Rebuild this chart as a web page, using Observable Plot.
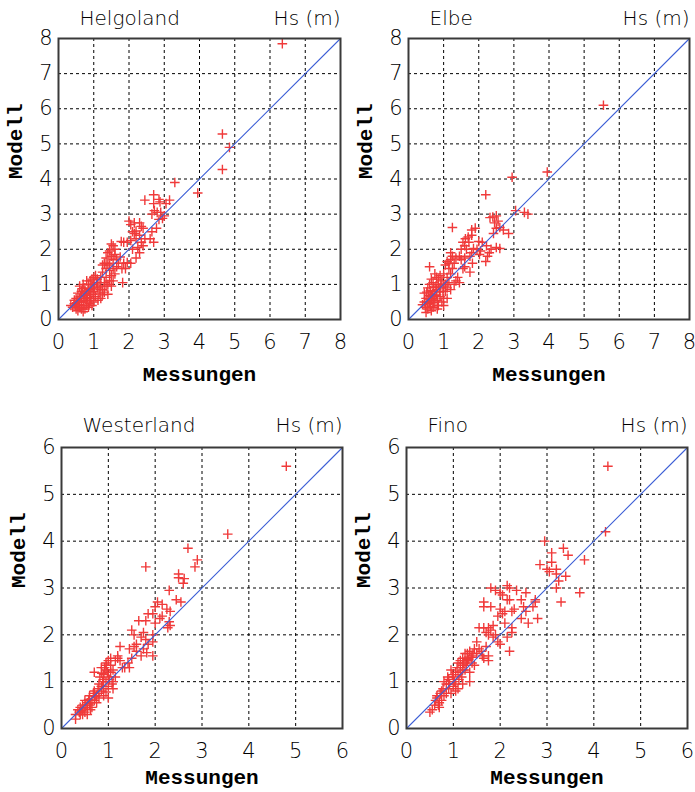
<!DOCTYPE html>
<html>
<head>
<meta charset="utf-8">
<script src="https://cdn.jsdelivr.net/npm/d3@7"></script>
<script src="https://cdn.jsdelivr.net/npm/@observablehq/plot@0.6"></script>
<style>
  html, body { margin: 0; padding: 0; background: white; }
  #wrap { position: relative; width: 695px; height: 792px; overflow: hidden; background: white; }
  .panel { position: absolute; }
</style>
</head>
<body>
<div id="wrap"></div>
<script>
// Data: [Messungen, Modell] pairs (Hs in m)
const helgoland = [
[6.35,7.85],[4.65,5.28],[4.85,4.9],[4.65,4.27],[3.95,3.6],[3.3,3.9],
[2.45,3.4],[2.7,3.55],[2.85,3.42],[2.88,3.35],[3.15,3.4],[3.05,3.3],[2.7,3.3],[2.65,3.0],[2.72,3.1],[2.8,3.05],[2.9,3.05],[2.95,2.88],[3.0,2.95],[2.85,2.85],[2.78,2.6],[2.65,2.5],[2.7,2.2],[2.6,2.3],
[2.0,2.8],[2.05,2.7],[2.15,2.75],[2.3,2.75],[2.35,2.65],[2.1,2.5],[2.2,2.52],[2.15,2.45],[2.4,2.6],[2.3,2.4],[2.45,2.3],[2.2,2.3],[2.35,2.2],[2.4,2.1],[2.25,2.05],[2.05,2.25],[1.95,2.2],[2.1,2.0],[1.85,2.2],[1.78,2.22],[2.3,1.9],[2.2,1.75],
[1.5,2.15],[1.55,2.1],[1.6,2.0],[1.45,1.95],[1.4,1.9],[1.6,1.85],[1.5,1.8],[1.35,1.75],[1.55,1.7],[1.65,1.72],[1.75,1.78],[1.4,1.6],[1.3,1.6],[1.45,1.55],[1.55,1.45],[1.7,1.6],[1.85,1.6],[1.95,1.62],[2.05,1.6],[1.8,1.45],[1.9,1.45],[1.82,1.05],[1.45,1.4],[1.35,1.2],[1.25,1.35],[1.2,1.2],[1.3,1.05],[1.4,1.0],[1.45,1.1],[1.5,1.25],[1.6,1.3],[1.35,0.95],[1.25,0.85],[1.3,0.78],[1.4,0.72],[1.55,1.1],[1.5,0.95],[1.65,1.5],[1.35,1.45],[1.25,1.55],
[0.35,0.4],[0.45,0.45],[0.5,0.3],[0.55,0.25],[0.6,0.35],[0.55,0.5],[0.5,0.6],[0.6,0.6],[0.65,0.5],[0.7,0.4],[0.7,0.7],[0.65,0.8],[0.75,0.6],[0.8,0.5],[0.8,0.75],[0.75,0.9],[0.85,0.85],[0.9,0.7],[0.9,0.55],[0.95,0.95],[0.85,1.0],[0.9,1.1],[0.8,1.1],[0.7,1.0],[1.0,1.0],[1.0,0.8],[1.05,0.65],[1.1,0.9],[1.1,1.15],[1.15,1.05],[1.2,0.95],[1.05,1.25],[1.15,0.75],[1.0,0.5],[0.95,0.4],[0.85,0.35],[1.2,0.6],[0.6,0.95],[0.55,0.75],[0.45,0.55],[0.4,0.35],[0.65,0.3],[0.75,0.3],[0.7,0.22],[0.62,0.65],[0.72,0.55],[0.78,0.68],[0.82,0.62],[0.88,0.78],[0.92,0.88],[0.98,0.72],[1.02,0.9],[1.08,1.05],[0.68,0.88],[0.58,0.42],[0.48,0.38],[0.52,0.48],[0.88,0.45],[0.92,0.6],[1.12,0.55],[1.25,0.7],[1.18,0.85],[0.8,0.4],[0.75,0.8],[0.95,1.15],[1.0,1.2]
];

const elbe = [
[5.55,6.1],[3.95,4.2],[2.95,4.05],[2.2,3.55],[3.05,3.1],[3.3,3.05],[3.4,3.0],
[1.25,2.62],[1.8,2.55],[1.9,2.6],[2.4,2.92],[2.5,2.95],[2.32,2.9],[2.45,2.75],[2.55,2.8],[2.6,2.62],[2.7,2.55],[2.5,2.6],[2.42,2.45],[2.85,2.45],[2.5,2.05],[2.6,2.02],[2.35,2.0],[2.3,1.9],[2.25,1.8],[2.2,1.65],[2.22,2.1],[2.1,2.2],[2.0,2.22],[1.95,2.0],[2.05,1.95],[2.02,1.85],[1.8,2.4],[1.7,2.35],[1.62,2.3],[1.55,2.2],[1.6,2.1],[1.5,2.0],[1.65,2.0],[1.72,2.2],[1.85,2.02],[1.8,1.9],[1.75,1.8],[1.82,1.6],[1.75,1.35],[1.6,1.5],[1.55,1.45],[1.6,1.75],[1.5,1.7],[1.45,1.8],[1.35,1.75],[1.25,1.8],[1.2,1.9],[1.3,1.6],[1.2,1.7],[1.1,1.65],[1.05,1.55],[1.15,1.45],[1.4,1.2],[1.45,1.05],[1.35,1.1],[1.3,1.0],[1.2,1.3],[1.1,1.2],[1.25,1.45],[1.15,1.6],
[0.6,1.5],[0.4,0.42],[0.45,0.75],[0.5,0.6],[0.55,0.3],[0.5,0.2],[0.6,0.45],[0.65,0.65],[0.7,0.8],[0.55,0.9],[0.6,1.0],[0.7,1.05],[0.75,1.3],[0.8,1.2],[0.85,1.0],[0.8,0.7],[0.75,0.5],[0.7,0.35],[0.65,0.25],[0.9,0.9],[0.95,1.1],[1.0,0.95],[1.0,1.3],[0.9,1.25],[1.0,0.6],[0.95,0.5],[0.85,0.4],[1.05,0.8],[1.1,0.6],[0.9,0.65],[0.8,0.85],[0.65,0.55],[0.55,0.5],[0.48,0.35],[0.52,0.78],[0.58,0.68],[0.62,0.82],[0.68,0.72],[0.72,0.6],[0.78,0.95],[0.82,0.55],[0.88,0.78],[0.92,1.0],[0.98,0.8],[1.05,1.0],[1.1,0.9],[1.15,1.05],[1.2,0.85],[0.62,0.38],[0.7,0.48],[0.75,0.68],[0.58,0.58],[0.85,1.15],[0.72,0.92],[0.45,0.5],[0.65,1.15],[1.0,0.4],[0.82,0.3]
];

const westerland = [
[4.8,5.6],[3.55,4.15],[2.7,3.85],[1.8,3.45],[2.9,3.6],[2.85,3.45],[2.5,3.3],[2.5,3.22],[2.62,3.2],[2.6,3.1],[2.3,2.95],[2.45,2.75],[2.55,2.7],[2.05,2.7],[2.0,2.6],[2.15,2.65],[2.25,2.55],[2.32,2.5],[2.15,2.4],[2.1,2.35],[2.3,2.28],[2.32,2.2],[2.27,2.15],[2.0,2.25],[1.95,2.45],[1.85,2.45],[1.8,2.3],[1.65,2.3],[1.5,2.1],[1.55,2.0],[1.7,1.95],[1.8,1.9],[1.75,2.05],[1.95,2.0],[1.85,1.8],[1.95,1.85],[1.82,1.62],[1.75,1.7],[1.6,1.8],[1.55,1.75],[1.45,1.7],[1.7,1.55],[1.95,1.55],[1.25,1.75],[1.5,1.5],[1.42,1.4],[1.35,1.3],[1.3,1.3],[1.2,1.5],[1.15,1.45],[1.25,1.45],[1.2,1.55],[1.6,1.65],[1.45,1.3],[1.1,1.25],
[0.7,1.2],[0.85,1.3],[0.9,1.15],[0.95,1.4],[1.0,1.45],[1.05,1.35],[1.05,1.2],[1.0,1.1],[0.95,1.0],[1.0,0.9],[1.1,0.85],[0.9,0.85],[0.85,0.9],[0.8,0.95],[0.8,0.75],[0.75,0.7],[0.7,0.8],[0.65,0.6],[0.6,0.7],[0.55,0.55],[0.5,0.6],[0.45,0.5],[0.4,0.45],[0.35,0.4],[0.3,0.3],[0.3,0.2],[0.4,0.3],[0.5,0.35],[0.55,0.45],[0.6,0.5],[0.65,0.45],[0.7,0.6],[0.75,0.55],[0.8,0.65],[0.85,0.8],[0.9,0.7],[1.1,1.0],[1.15,1.1],[0.95,1.25],[0.9,1.05],[0.92,1.3],[0.98,1.2],[1.02,1.05],[0.88,1.0],[0.82,1.1],[0.78,0.85],[0.72,0.68],[0.68,0.75],[0.62,0.55],[0.58,0.62],[0.52,0.5],[0.48,0.42],[0.42,0.38],[0.38,0.35],[0.45,0.3],[0.62,0.4],[0.55,0.3],[0.95,0.78],[1.08,0.95],[1.05,1.5],[0.96,1.35],[0.86,1.18],[1.0,0.65]
];

const fino = [
[4.3,5.6],[4.25,4.2],[2.95,4.0],[3.35,3.85],[3.1,3.75],[3.45,3.7],[3.8,3.6],[3.1,3.55],[2.85,3.5],[3.0,3.4],[3.05,3.35],[3.2,3.4],[3.2,3.3],[3.4,3.25],[3.25,3.15],[3.2,3.0],[3.7,2.9],[3.3,2.7],[2.8,2.35],[2.6,2.25],
[2.55,2.9],[2.75,2.7],[2.7,2.6],[2.75,2.75],[2.5,2.6],[2.55,2.5],[2.45,2.75],[2.45,2.35],[2.3,2.55],[2.35,2.95],[2.15,3.05],[2.2,3.0],[2.15,2.75],[2.2,2.75],[2.25,2.5],[2.1,2.5],[2.05,2.85],[2.0,2.9],[1.9,2.95],[1.8,3.0],[1.65,2.7],[1.65,2.6],[1.8,2.6],[1.95,2.4],[2.0,2.55],[2.05,2.45],[2.1,2.25],[2.25,2.15],[2.25,2.05],[2.15,1.95],[2.2,1.65],[2.0,1.8],[1.95,1.85],[1.9,2.0],[1.85,1.95],[1.75,2.0],[1.7,2.05],[1.8,2.1],[1.55,2.15],[1.65,2.15],[1.75,2.15],[1.85,2.2],[1.5,1.85],[1.55,1.7],[1.6,1.65],[1.7,1.75],[1.75,1.55],[1.75,1.45],[1.65,1.5],[1.45,1.7],[1.4,1.55],[1.35,1.65],[1.3,1.6],[1.25,1.6],[1.2,1.5],[1.15,1.45],[1.1,1.4],[1.15,1.3],[1.3,1.45],[1.4,1.4],[1.45,1.35],[1.35,1.2],[1.25,1.25],[1.2,1.25],[1.1,1.15],[1.05,1.2],[1.0,1.1],[0.95,1.25],[0.9,1.05],[0.85,0.95],[0.8,1.0],[0.9,0.85],[1.0,0.9],[1.05,0.95],[1.1,0.85],[0.95,0.75],[0.85,0.75],[0.8,0.7],[0.75,0.6],[0.7,0.55],[0.65,0.65],[0.6,0.5],[0.55,0.4],[0.5,0.35],[0.7,0.45],[0.75,0.8],[0.65,0.7],
[1.2,1.35],[1.25,1.45],[1.3,1.5],[1.38,1.52],[1.22,1.4],[1.15,1.2],[1.28,1.35],[1.33,1.48],[1.18,1.1],[1.08,1.3],[1.02,1.0],[0.98,1.15],[0.92,0.95],[0.88,1.1],[1.12,1.05],[1.42,1.6],[1.5,1.6],[1.62,1.55],[0.78,0.85],[0.72,0.75],[0.62,0.6],[0.68,0.5],[1.05,0.8],[1.35,1.0],[1.2,0.95]
];

const stations = ["Helgoland", "Elbe", "Westerland", "Fino"];
const series = [helgoland, elbe, westerland, fino];
const axisMax = [8, 8, 6, 6];
const unitLabel = "Hs (m)";
const xLabel = "Messungen";
const yLabel = "Modell";

// layout (pixel placement of each panel)
const layout = [
  {left: 0,   top: 0,   width: 347, height: 396, ml: 58, mr: 7, mt: 38, mb: 77, titleDy: -20, xlDy: 55},
  {left: 348, top: 0,   width: 347, height: 396, ml: 60, mr: 6, mt: 38, mb: 77, titleDy: -20, xlDy: 55},
  {left: 0,   top: 400, width: 347, height: 392, ml: 61, mr: 5, mt: 47, mb: 64, titleDy: -22, xlDy: 49},
  {left: 348, top: 400, width: 347, height: 392, ml: 58, mr: 8, mt: 47, mb: 64, titleDy: -22, xlDy: 49}
];

const lightFont = "DejaVu Sans";
const wrap = document.getElementById("wrap");

stations.forEach((name, i) => {
  const L = layout[i];
  const max = axisMax[i];
  const ticks = d3.range(0, max + 1);
  const inner = ticks.slice(1, -1);
  const diag = [0, max];
  const chart = Plot.plot({
    width: L.width,
    height: L.height,
    marginLeft: L.ml, marginRight: L.mr, marginTop: L.mt, marginBottom: L.mb,
    x: {domain: [0, max]},
    y: {domain: [0, max]},
    style: {fontFamily: lightFont, fontSize: "21px", fontWeight: 200, color: "#000", background: "white", overflow: "visible"},
    marks: [
      Plot.gridX(inner, {stroke: "black", strokeOpacity: 1, strokeWidth: 1, strokeDasharray: "3,3"}),
      Plot.gridY(inner, {stroke: "black", strokeOpacity: 1, strokeWidth: 1, strokeDasharray: "3,3"}),
      Plot.dot(series[i], {x: d => d[0], y: d => d[1], symbol: "plus", r: 3.2, stroke: "#f03a3a", strokeWidth: 1.4}),
      Plot.line(diag, {x: d => d, y: d => d, stroke: "#3d5fd6", strokeWidth: 1.1}),
      Plot.frame({stroke: "#3a3a3a", strokeWidth: 2}),
      Plot.axisX(ticks, {tickSize: 0, tickPadding: 15, label: null, fontSize: 21, fontWeight: 200, fill: "#000"}),
      Plot.axisY(ticks, {tickSize: 0, tickPadding: 6, label: null, fontSize: 21, fontWeight: 200, fill: "#000"}),
      Plot.text([name], {text: d => d, frameAnchor: "top-left", dx: 21, dy: L.titleDy, textAnchor: "start", lineAnchor: "middle", fontSize: 20, fontWeight: 200, fill: "#000"}),
      Plot.text([unitLabel], {text: d => d, frameAnchor: "top-right", dx: 0, dy: L.titleDy, textAnchor: "end", lineAnchor: "middle", fontSize: 20, fontWeight: 200, fill: "#000"}),
      Plot.text([xLabel], {text: d => d, frameAnchor: "bottom", dy: L.xlDy, lineAnchor: "middle", fontFamily: "Liberation Mono", fontWeight: "bold", fontSize: 21, fill: "black"}),
      Plot.text([yLabel], {text: d => d, frameAnchor: "left", dx: -43, rotate: -90, lineAnchor: "middle", fontFamily: "Liberation Mono", fontWeight: "bold", fontSize: 21, fill: "black"})
    ]
  });
  const div = document.createElement("div");
  div.className = "panel";
  div.style.left = L.left + "px";
  div.style.top = L.top + "px";
  div.appendChild(chart);
  wrap.appendChild(div);
});
</script>
</body>
</html>
